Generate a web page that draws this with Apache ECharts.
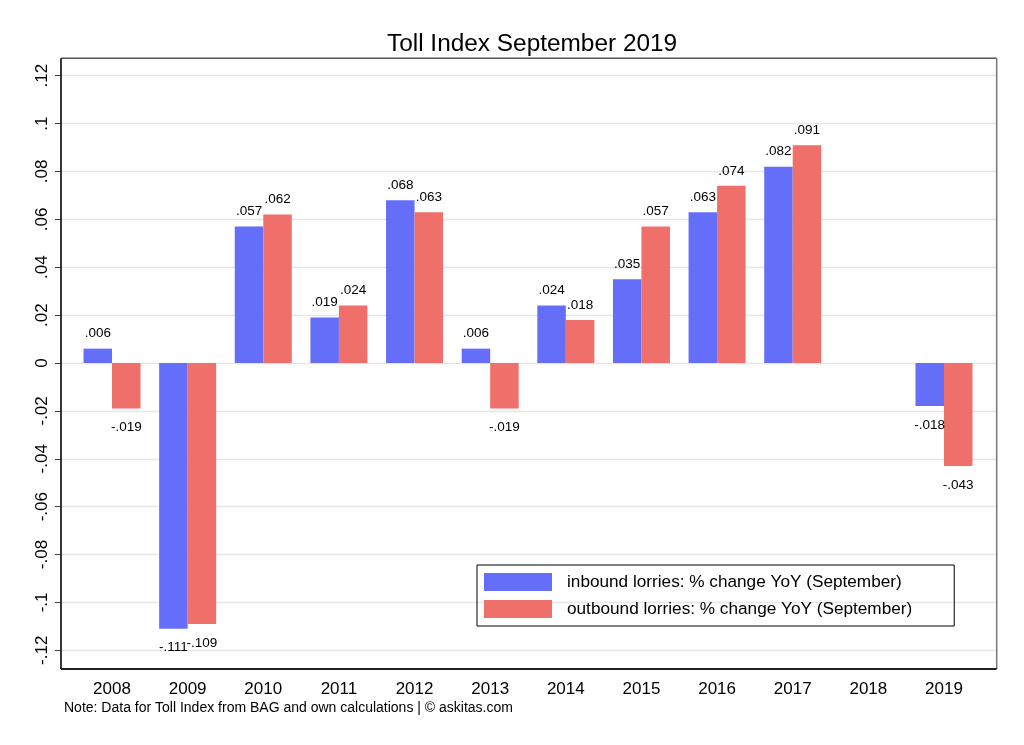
<!DOCTYPE html>
<html>
<head>
<meta charset="utf-8">
<script src="https://cdn.jsdelivr.net/npm/echarts@6/dist/echarts.min.js"></script>
<style>html,body{margin:0;padding:0;background:#fff;}#c{width:1024px;height:745px;}</style>
</head>
<body>
<div id="c"></div>
<script>
const years = ['2008','2009','2010','2011','2012','2013','2014','2015','2016','2017','2018','2019'];
const inbound = [0.006, -0.111, 0.057, 0.019, 0.068, 0.006, 0.024, 0.035, 0.063, 0.082, null, -0.018];
const outbound = [-0.019, -0.109, 0.062, 0.024, 0.063, -0.019, 0.018, 0.057, 0.074, 0.091, null, -0.043];
const yTicksMin = -0.12, yTicksMax = 0.12, yStep = 0.02;
const titleText = 'Toll Index September 2019';
const seriesNames = ['inbound lorries: % change YoY (September)', 'outbound lorries: % change YoY (September)'];
const noteText = 'Note: Data for Toll Index from BAG and own calculations | \u00A9 askitas.com';

const FONT = '"Liberation Sans", Arial, Helvetica, sans-serif';
const fmtTick = v => { const s = String(+(+v).toFixed(2)); return s.replace('0.', '.'); };
const fmtVal = v => v.toFixed(3).replace('0.', '.');
const toData = arr => arr.map(v => v == null ? '-' : ({
  value: v,
  label: v >= 0 ? { position: 'top', distance: 8 } : { position: 'bottom', distance: 12 }
}));

const gTop = 75.7, gBottom = 745 - 650.3;
const chart = echarts.init(document.getElementById('c'), null, { renderer: 'canvas' });
chart.setOption({
  backgroundColor: '#fff',
  animation: false,
  textStyle: { fontFamily: FONT },
  title: {
    text: titleText, left: 382, top: 27,
    textStyle: { fontFamily: FONT, fontSize: 24.4, fontWeight: 'normal', color: '#000' }
  },
  legend: {
    orient: 'vertical', left: 477, top: 565,
    padding: [8, 42, 8, 7],
    borderColor: '#000', borderWidth: 1, borderRadius: 0,
    itemWidth: 68, itemHeight: 18, itemGap: 9,
    icon: 'rect',
    textStyle: { fontFamily: FONT, fontSize: 17.2, color: '#000', padding: [0, 0, 0, 10] },
    data: seriesNames
  },
  grid: [
    { left: 74.2, right: 42.2, top: gTop, bottom: gBottom },
    { left: 61, right: 27.3, top: gTop, bottom: gBottom }
  ],
  xAxis: [
    {
      type: 'category', gridIndex: 0, data: years,
      axisLine: { show: false, onZero: false }, axisTick: { show: false },
      axisLabel: { fontFamily: FONT, fontSize: 17, color: '#000', margin: 31 },
      splitLine: { show: false }
    },
    { type: 'value', gridIndex: 1, show: false }
  ],
  yAxis: [
    {
      type: 'value', gridIndex: 0, min: yTicksMin, max: yTicksMax, interval: yStep,
      show: false
    },
    {
      type: 'value', gridIndex: 1, min: yTicksMin, max: yTicksMax, interval: yStep,
      axisLine: { show: false },
      axisTick: { show: true, length: 6, lineStyle: { color: '#444', width: 1 } },
      axisLabel: { rotate: 90, fontFamily: FONT, fontSize: 17, color: '#000', margin: 10, formatter: fmtTick },
      splitLine: { show: true, lineStyle: { color: '#e6e6e6', width: 1.3 } }
    }
  ],
  series: [
    {
      name: seriesNames[0], type: 'bar', xAxisIndex: 0, yAxisIndex: 0,
      data: toData(inbound), barWidth: 28.5, barGap: '0%',
      itemStyle: { color: '#646EF8' },
      label: { show: true, fontFamily: FONT, fontSize: 13.5, color: '#000',
        formatter: p => fmtVal(p.value) }
    },
    {
      name: seriesNames[1], type: 'bar', xAxisIndex: 0, yAxisIndex: 0,
      data: toData(outbound), barWidth: 28.5, barGap: '0%',
      itemStyle: { color: '#EF6F6A' },
      label: { show: true, fontFamily: FONT, fontSize: 13.5, color: '#000',
        formatter: p => fmtVal(p.value) }
    }
  ],
  graphic: [
    { type: 'line', shape: { x1: 61, y1: 58.3, x2: 996.7, y2: 58.3 }, style: { stroke: '#555', lineWidth: 1.5 }, z: 50 },
    { type: 'line', shape: { x1: 996.7, y1: 58.3, x2: 996.7, y2: 669 }, style: { stroke: '#777', lineWidth: 1.5 }, z: 50 },
    { type: 'line', shape: { x1: 61, y1: 58.3, x2: 61, y2: 669 }, style: { stroke: '#222', lineWidth: 1.8 }, z: 50 },
    { type: 'line', shape: { x1: 61, y1: 669, x2: 996.7, y2: 669 }, style: { stroke: '#222', lineWidth: 1.8 }, z: 50 },
    { type: 'text', left: 64, top: 701, style: { text: noteText, fontFamily: FONT, fontSize: 14, fill: '#000' } }
  ]
});
</script>
</body>
</html>
